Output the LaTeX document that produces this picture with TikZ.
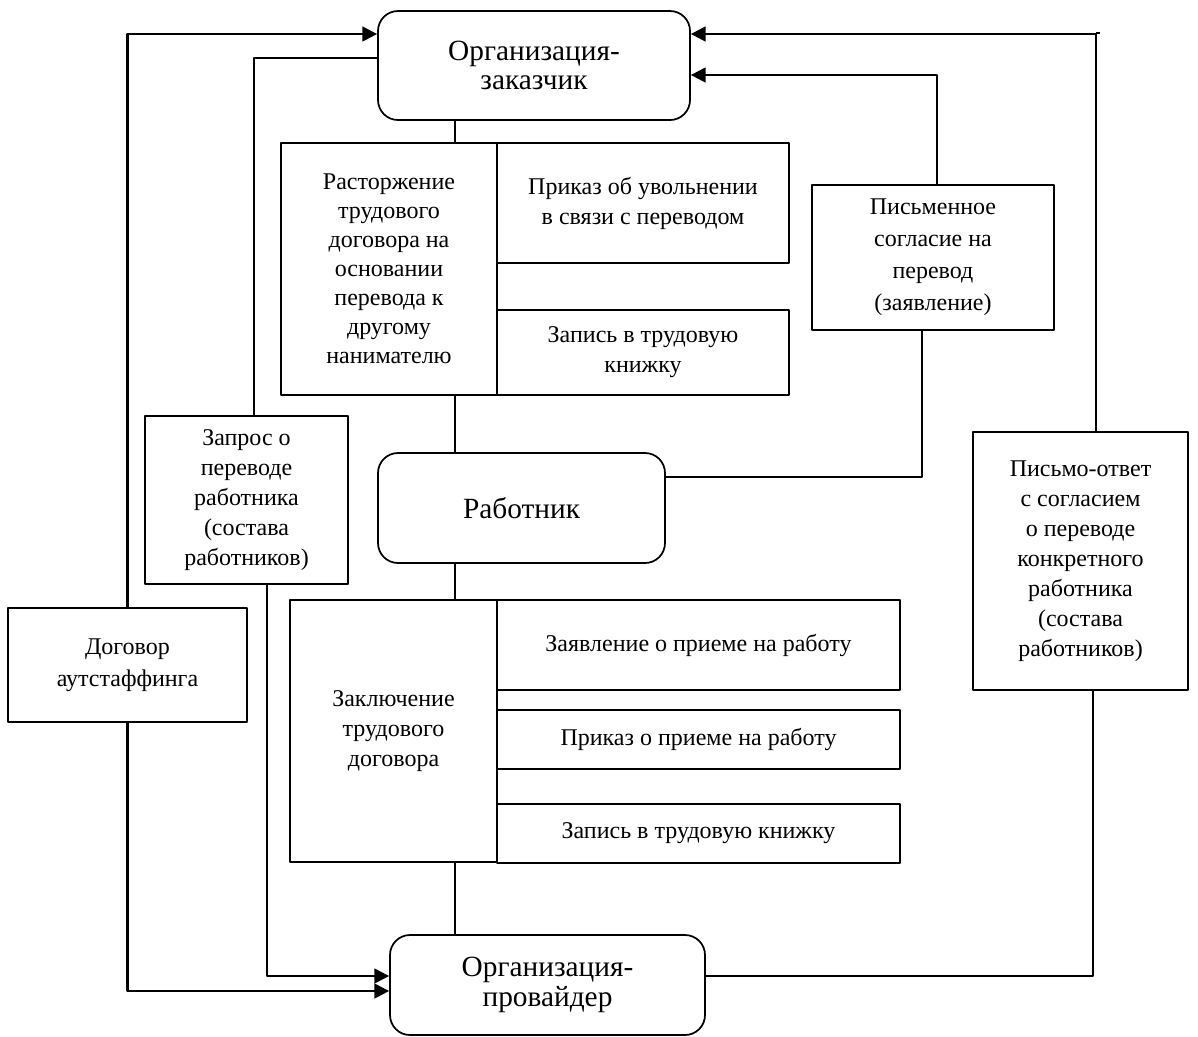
\documentclass[tikz,border=0pt]{standalone}
\usepackage{fontspec}
\setmainfont{Liberation Serif}
\usetikzlibrary{arrows.meta,calc}
\tikzset{
  org/.style={draw, line width=1.3pt, rounded corners=15pt, align=center,
    font=\fontsize{22}{22}\selectfont},
  doc/.style={draw, line width=1.3pt, align=center,
    font=\fontsize{18}{22.5}\selectfont},
  link/.style={line width=1.3pt},
  arr/.style={line width=1.6pt, -{Triangle[length=11pt,width=11pt]}}
}
\begin{document}
\begin{tikzpicture}[x=0.75pt, y=-0.75pt, line join=round]
\useasboundingbox (0,0) rectangle (1198,1036);
\def\sp{455} % общая вертикаль
% организации и работник
\node[org, minimum width=312*0.75pt, minimum height=109*0.75pt] (zak) at (534,65.5) {Организация-\\заказчик};
\node[org, minimum width=287*0.75pt, minimum height=110*0.75pt] (rab) at (521.5,508) {Работник};
\node[org, minimum width=315*0.75pt, minimum height=100*0.75pt] (prov) at (547.5,985) {Организация-\\провайдер};
% расторжение
\node[doc, minimum width=216*0.75pt, minimum height=252*0.75pt, font=\fontsize{18}{21.7}\selectfont] (rast) at (389,269) {Расторжение\\трудового\\договора на\\основании\\перевода к\\другому\\нанимателю};
\node[doc, minimum width=292*0.75pt, minimum height=120*0.75pt] (uvol) at (643,203) {Приказ об увольнении\\в связи с переводом};
\node[doc, minimum width=292*0.75pt, minimum height=85*0.75pt] (zap1) at (643,352.5) {Запись в трудовую\\книжку};
% заключение
\node[doc, minimum width=207*0.75pt, minimum height=262*0.75pt] (zakl) at (393.5,731) {Заключение\\трудового\\договора};
\node[doc, minimum width=403*0.75pt, minimum height=90*0.75pt] (zayav) at (698.5,645) {Заявление о приеме на работу};
\node[doc, minimum width=403*0.75pt, minimum height=59*0.75pt] (prik) at (698.5,739.5) {Приказ о приеме на работу};
\node[doc, minimum width=403*0.75pt, minimum height=59*0.75pt] (zap2) at (698.5,833.5) {Запись в трудовую книжку};
% боковые документы
\node[doc, minimum width=242*0.75pt, minimum height=145*0.75pt, font=\fontsize{18}{24}\selectfont] (pism) at (933,257.5) {Письменное\\согласие на\\перевод\\(заявление)};
\node[doc, minimum width=203*0.75pt, minimum height=168*0.75pt] (zapr) at (246.5,500) {Запрос о\\переводе\\работника\\(состава\\работников)};
\node[doc, minimum width=239*0.75pt, minimum height=114*0.75pt, font=\fontsize{18}{24}\selectfont] (dog) at (127.5,665) {Договор\\аутстаффинга};
\node[doc, minimum width=215*0.75pt, minimum height=258*0.75pt] (otv) at (1080.5,561) {Письмо-ответ\\с согласием\\о переводе\\конкретного\\работника\\(состава\\работников)};
% вертикаль
\draw[link] (zak.south -| \sp,0) -- (rast.north -| \sp,0);
\draw[link] (rast.south -| \sp,0) -- (rab.north -| \sp,0);
\draw[link] (rab.south -| \sp,0) -- (zakl.north -| \sp,0);
\draw[link] (zakl.south -| \sp,0) -- (prov.north -| \sp,0);
% стрелки
\draw[link] ($(rab.east)+(0,-31)$) -| ($(pism.south)+(-11,0)$);
\draw[arr] ($(pism.north)+(4,0)$) |- ($(zak.east)+(0,9.5)$);
\draw[arr] ($(otv.north)+(15.5,0)$) |- ($(zak.east)+(0,-31.5)$);
\draw[link] ($(otv.north)+(15.5,-398)$) -- ++(4,0);
\draw[link] ($(otv.south)+(12.5,0)$) |- ($(prov.east)+(0,-9)$);
\draw[link] ($(zapr.north)+(7.5,0)$) |- ($(zak.west)+(0,-7.5)$);
\draw[arr] (dog.north) |- ($(zak.west)+(0,-31.5)$);
\draw[arr] ($(zapr.south)+(20.5,0)$) |- ($(prov.west)+(0,-9)$);
\draw[arr] (dog.south) |- ($(prov.west)+(0,6)$);
\end{tikzpicture}
\end{document}
